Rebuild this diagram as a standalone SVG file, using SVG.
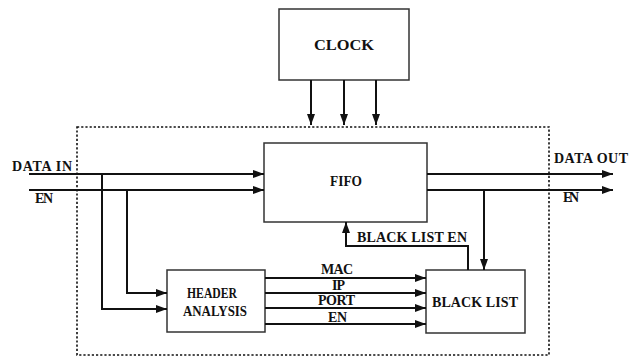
<svg xmlns="http://www.w3.org/2000/svg" width="638" height="360" viewBox="0 0 638 360">
<style>
.box{fill:#fff;stroke:#333;stroke-width:1.5}
.ln{fill:none;stroke:#111;stroke-width:2}
.t{font-family:'Liberation Serif','Times New Roman',serif;font-weight:bold;font-size:14px;fill:#111}
.dash{fill:none;stroke:#111;stroke-width:1.6;stroke-dasharray:2.2 2}
</style>
<defs>
<marker id="ah" markerUnits="userSpaceOnUse" markerWidth="11" markerHeight="8" refX="11" refY="4" orient="auto">
<path d="M0,0 L11,4 L0,8 z" fill="#111"/>
</marker>
</defs>
<rect width="638" height="360" fill="#fff"/>
<rect class="dash" x="77" y="127" width="472" height="228"/>
<g id="clock"><rect class="box" x="279" y="9" width="130" height="71"/><text class="t" x="344" y="50" text-anchor="middle" font-size="17" textLength="60" lengthAdjust="spacingAndGlyphs">CLOCK</text></g>
<g id="fifo"><rect class="box" x="264" y="143" width="163" height="79"/><text class="t" x="346" y="186" text-anchor="middle" textLength="32" lengthAdjust="spacingAndGlyphs">FIFO</text></g>
<g id="header"><rect class="box" x="167" y="270" width="98" height="62"/><text class="t" x="187" y="298" font-size="16" textLength="50" lengthAdjust="spacingAndGlyphs">HEADER</text><text class="t" x="183" y="316" font-size="16" textLength="64" lengthAdjust="spacingAndGlyphs">ANALYSIS</text></g>
<g id="blacklist"><rect class="box" x="426" y="270" width="99" height="63"/><text class="t" x="432" y="307" textLength="86">BLACK LIST</text></g>
<g id="connectors">
<path class="ln" d="M311,80 V125" marker-end="url(#ah)"/>
<path class="ln" d="M344,80 V125" marker-end="url(#ah)"/>
<path class="ln" d="M376,80 V125" marker-end="url(#ah)"/>
<path class="ln" d="M29,174 H264" marker-end="url(#ah)"/>
<path class="ln" d="M29,190 H264" marker-end="url(#ah)"/>
<path class="ln" d="M102,174 V309 H167" marker-end="url(#ah)"/>
<path class="ln" d="M127,190 V293 H167" marker-end="url(#ah)"/>
<path class="ln" d="M265,278 H426" marker-end="url(#ah)"/>
<path class="ln" d="M265,293 H426" marker-end="url(#ah)"/>
<path class="ln" d="M265,308 H426" marker-end="url(#ah)"/>
<path class="ln" d="M265,324 H426" marker-end="url(#ah)"/>
<path class="ln" d="M468,270 V246 H346 V222" marker-end="url(#ah)"/>
<path class="ln" d="M427,174 H613" marker-end="url(#ah)"/>
<path class="ln" d="M427,190 H613" marker-end="url(#ah)"/>
<path class="ln" d="M484,190 V270" marker-end="url(#ah)"/>
</g>
<g id="labels">
<text class="t" x="12" y="171" textLength="60">DATA IN</text>
<text class="t" x="35" y="203" textLength="18">EN</text>
<text class="t" x="321" y="274" textLength="32">MAC</text>
<text class="t" x="332" y="290" textLength="13">IP</text>
<text class="t" x="318" y="305" textLength="37">PORT</text>
<text class="t" x="328" y="322" textLength="19">EN</text>
<text class="t" x="357" y="242" textLength="110">BLACK LIST EN</text>
<text class="t" x="554" y="163" textLength="74">DATA OUT</text>
<text class="t" x="563" y="202" textLength="16">EN</text>
</g>
</svg>
